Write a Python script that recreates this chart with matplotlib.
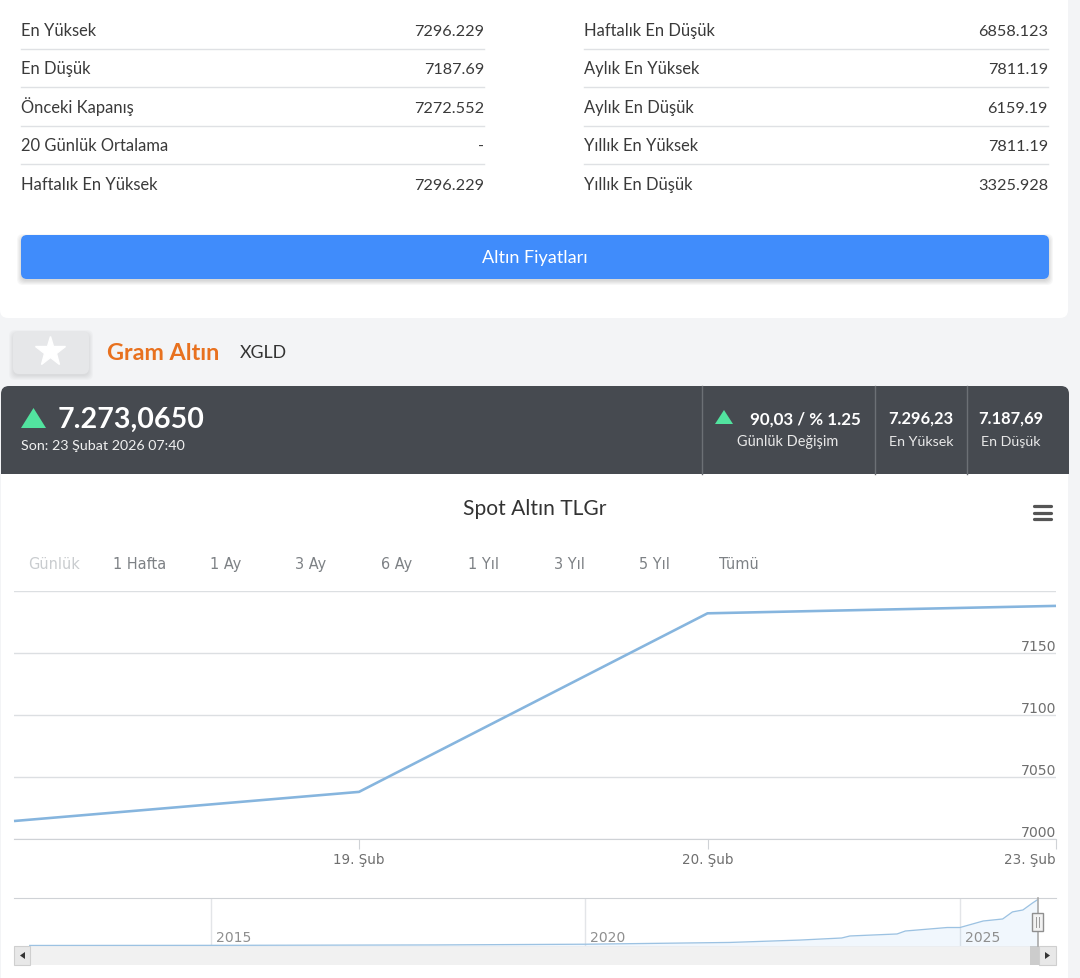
import matplotlib
matplotlib.use("Agg")
import matplotlib.pyplot as plt
from matplotlib.patches import FancyBboxPatch, Rectangle, Polygon

W, H = 1080, 979
plt.rcParams['font.family'] = ['Lato', 'DejaVu Sans']

# ---- data ----
left_labels = ["En Yüksek", "En Düşük", "Önceki Kapanış", "20 Günlük Ortalama", "Haftalık En Yüksek"]
left_values = ["7296.229", "7187.69", "7272.552", "-", "7296.229"]
right_labels = ["Haftalık En Düşük", "Aylık En Yüksek", "Aylık En Düşük", "Yıllık En Yüksek", "Yıllık En Düşük"]
right_values = ["6858.123", "7811.19", "6159.19", "7811.19", "3325.928"]
range_labels = ["Günlük", "1 Hafta", "1 Ay", "3 Ay", "6 Ay", "1 Yıl", "3 Yıl", "5 Yıl", "Tümü"]

main_x = [-0.99, 0, 1, 2]
main_y = [7014.5, 7038, 7182, 7188]
main_ticks = [0, 1, 2]
main_ticklabels = ["19. Şub", "20. Şub", "23. Şub"]
y_ticks = [7000, 7050, 7100, 7150, 7200]
y_ticklabels = ["7000", "7050", "7100", "7150", ""]

nav_years = [2012.58, 2015, 2018, 2020, 2021.93, 2022.86, 2023.42, 2023.53, 2024.16, 2024.27,
             2024.83, 2025, 2025.31, 2025.57, 2025.7, 2025.84, 2025.97, 2026.03]
nav_vals = [90, 110, 180, 300, 600, 1000, 1350, 1690, 2030, 2530,
            3120, 3120, 4220, 4560, 5750, 6080, 7270, 7770]
nav_ticks = [2015, 2020, 2025]

PAGE = "#f3f4f6"; DARK = "#464a50"; GREEN = "#52e39f"; LINE = "#86b5de"
GRID = "#dcdfe2"; TICKTXT = "#6f6f6f"

fig = plt.figure(figsize=(W / 100, H / 100), dpi=100, facecolor=PAGE)
bg = fig.add_axes([0, 0, 1, 1], zorder=0)
bg.set_xlim(0, W); bg.set_ylim(H - 1, -1); bg.axis("off")

def px(s):
    return s * 0.72

def box(x0, y0, x1, y1, color, r=0, z=1, **kw):
    if r:
        p = FancyBboxPatch((x0, y0), x1 - x0, y1 - y0, boxstyle=f"round,pad=0,rounding_size={r}",
                           fc=color, ec="none", zorder=z, **kw)
    else:
        p = Rectangle((x0, y0), x1 - x0, y1 - y0, fc=color, ec="none", zorder=z, **kw)
    bg.add_patch(p)

def shadow(x0, y0, x1, y1, r=6, z=2, a=0.03):
    for g in range(5, 0, -1):
        box(x0 - g + 1, y0 + 3 - g + 1, x1 + g - 1, y1 + 1 + g, "#000000", r=r, z=z, alpha=a)

def txt(x, y, s, size, color="#333333", ha="left", weight="normal", family=None, z=5):
    bg.text(x, y + 0.36 * size - 1, s, fontsize=px(size), color=color, ha=ha, va="baseline", weight=weight,
            zorder=z, **({"family": family} if family else {}))

# top card
box(0, -20, 1068, 318, "white", r=8)
row_y = [30, 68, 107, 145, 184]
sep_y = [49, 87, 126, 164]
for i, y in enumerate(row_y):
    txt(21, y, left_labels[i], 16.5, "#3a3a3a")
    txt(484, y, left_values[i], 16.2, "#3a3a3a", ha="right")
    txt(584, y, right_labels[i], 16.5, "#3a3a3a")
    txt(1048, y, right_values[i], 16.2, "#3a3a3a", ha="right")
for y in sep_y:
    bg.plot([21, 484], [y, y], color="#dfe1e4", lw=1, zorder=3)
    bg.plot([584, 1048], [y, y], color="#dfe1e4", lw=1, zorder=3)

# button
shadow(21, 235, 1049, 279)
box(21, 235, 1049, 279, "#408cfb", r=6, z=3)
txt(534.5, 257, "Altın Fiyatları", 18, "white", ha="center")

# header row
shadow(13, 331, 89, 374, a=0.018)
box(13, 331, 89, 374, "#e6e7e9", r=6, z=3)
bg.plot([50], [351], marker="*", ms=px(31), color="white", mec="white", mew=1, zorder=4)
txt(107, 352, "Gram Altın", 23.4, "#e8711f", weight="bold")
txt(240, 352, "XGLD", 17.8, "#333333")

# dark bar
box(1, 386, 1069, 440, DARK, r=8, z=2)
box(1, 400, 1069, 474, DARK, z=2)
bg.add_patch(Polygon([(21, 428), (46, 428), (33.5, 408)], fc=GREEN, ec="none", zorder=4))
txt(58, 418, "7.273,0650", 28.6, "white", weight="bold")
txt(21, 445, "Son: 23 Şubat 2026 07:40", 14.2, "#f0f0f0")
for x in [701.5, 874.5, 966.5]:
    bg.plot([x, x], [386, 474], color="#6c7075", lw=1, zorder=3)
bg.add_patch(Polygon([(715, 424), (733, 424), (724, 410)], fc=GREEN, ec="none", zorder=4))
txt(805.5, 418, "90,03 / % 1.25", 17, "white", ha="center", weight="bold")
txt(788, 441, "Günlük Değişim", 14.5, "#e8e8e8", ha="center")
txt(921, 418, "7.296,23", 16.5, "white", ha="center", weight="bold")
txt(921, 441, "En Yüksek", 14.2, "#e8e8e8", ha="center")
txt(1011, 418, "7.187,69", 16.5, "white", ha="center", weight="bold")
txt(1011, 441, "En Düşük", 14.2, "#e8e8e8", ha="center")

# chart panel
box(1, 474, 1068, 985, "white")
txt(535, 507, "Spot Altın TLGr", 21, "#333333", ha="center")
for y in [506.5, 513, 519.5]:
    bg.plot([1034, 1051], [y, y], color="#555555", lw=px(3.2), zorder=4, solid_capstyle="round")
range_x = [54, 140, 226, 311, 397, 483, 569, 654, 739]
for i, (x, s) in enumerate(zip(range_x, range_labels)):
    txt(x, 563.5, s, 14.5, "#c9cccf" if i == 0 else "#7d8185", ha="center", family="DejaVu Sans")

# main axes
def axes_px(x0, y0, x1, y1, z=2):
    return fig.add_axes([x0 / W, 1 - (y1 + 1) / H, (x1 - x0) / W, (y1 - y0) / H], zorder=z)

ax = axes_px(14, 591, 1056, 839)
ax.patch.set_alpha(0)
ax.plot(main_x, main_y, color=LINE, lw=px(2.6), solid_capstyle="butt", clip_on=False)
ax.set_xlim(-0.99, 2)
ax.set_ylim(7000, 7200)
ax.set_yticks(y_ticks, y_ticklabels)
ax.set_xticks(main_ticks, main_ticklabels)
ax.grid(axis="y", color=GRID, lw=1)
ax.set_axisbelow(True)
for s in ["top", "left", "right"]:
    ax.spines[s].set_visible(False)
ax.spines["bottom"].set_color("#cfd2d6")
ax.yaxis.tick_right()
ax.tick_params(axis="y", length=0, pad=0, labelsize=px(14), labelcolor=TICKTXT)
ax.tick_params(axis="x", length=px(10), width=0.8, color="#cfd2d6", pad=px(3),
               labelsize=px(13.5), labelcolor=TICKTXT)
for t in ax.get_yticklabels():
    t.set_ha("right"); t.set_va("bottom"); t.set_family("DejaVu Sans")
for t in ax.get_xticklabels():
    t.set_family("DejaVu Sans")
ax.get_xticklabels()[-1].set_ha("right")

# navigator
nav = axes_px(14, 898, 1056, 946)
nav.patch.set_alpha(0)
nav.plot(nav_years, nav_vals, color="#9cc2e2", lw=px(1.3), zorder=3)
nav.fill_between(nav_years, nav_vals, 0, color="#7cb5ec", alpha=0.1, lw=0, zorder=2)
nav.set_xlim(2015 - 197 / 74.9, 2015 + 845 / 74.9)
nav.set_ylim(0, 8100)
nav.set_yticks([])
nav.set_xticks(nav_ticks, [""] * len(nav_ticks))
nav.grid(axis="x", color="#e3e5e8", lw=1)
nav.set_axisbelow(True)
nav.tick_params(axis="x", length=0)
for s in ["left", "right", "bottom"]:
    nav.spines[s].set_visible(False)
nav.spines["top"].set_color("#cfd2d6")
for yr in nav_ticks:
    nav.annotate(str(yr), (yr, 0), xycoords=("data", "axes fraction"), xytext=(px(5), px(2)),
                 textcoords="offset points", fontsize=px(14), color="#8f8f8f", family="DejaVu Sans",
                 ha="left", va="bottom")

# scrollbar and handle
box(14, 946, 1056, 965, "#f1f1f1")
bg.add_patch(Rectangle((14, 946), 16, 19, fc="#e8e8e8", ec="#cfcfcf", lw=0.8, zorder=3))
bg.add_patch(Rectangle((1039, 946), 17, 19, fc="#e8e8e8", ec="#cfcfcf", lw=0.8, zorder=3))
box(1030, 946, 1039, 965, "#cccccc", z=3)
bg.add_patch(Polygon([(25, 952), (25, 959), (20, 955.5)], fc="#333333", ec="none", zorder=4))
bg.add_patch(Polygon([(1045, 952), (1045, 959), (1050, 955.5)], fc="#333333", ec="none", zorder=4))
fg = fig.add_axes([0, 0, 1, 1], zorder=5)
fg.set_xlim(0, W); fg.set_ylim(H - 1, -1); fg.axis("off")
fg.plot([1037.5, 1037.5], [898, 946], color="#a9a9a9", lw=1.2)
fg.add_patch(Rectangle((1032, 913), 11, 18, fc="#f2f2f2", ec="#8f8f8f", lw=1, zorder=3))
fg.plot([1036, 1036], [917, 927], color="#9a9a9a", lw=0.7, zorder=4)
fg.plot([1039, 1039], [917, 927], color="#9a9a9a", lw=0.7, zorder=4)

fig.savefig("out.png", dpi=100, facecolor=PAGE)
